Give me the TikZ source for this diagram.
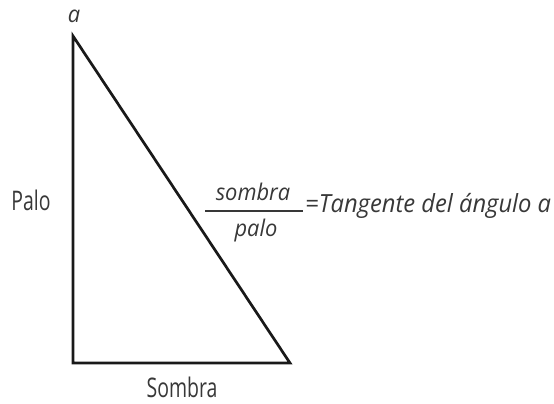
\documentclass[tikz,border=0pt]{standalone}
\usepackage{fontspec}
\newfontfamily\upf{Open Sans}[FakeStretch=0.72]
\newfontfamily\itf{Open Sans}[FakeStretch=0.95]
\begin{document}
\begin{tikzpicture}[x=1pt,y=-1pt,
  txt/.style={text=black!78, inner sep=0pt, font=\upf\fontsize{27}{30}\selectfont},
  itxt/.style={text=black!78, inner sep=0pt, font=\itf\itshape\fontsize{25}{28}\selectfont},
  edge/.style={draw=black!90, line width=2.7pt, line join=miter}]
\useasboundingbox (0,0) rectangle (554,404);
\coordinate (A) at (73,36);
\coordinate (B) at (73,363);
\coordinate (C) at (290,363);
\draw[edge] (A) -- (B) -- (C) -- cycle;
\node[itxt, font=\itf\itshape\fontsize{23}{26}\selectfont, anchor=base] (la) at (74,23) {a};
\node[txt, anchor=base] (lp) at (31,210) {Palo};
\node[txt, anchor=base] (ls) at (182,397) {Sombra};
\node[itxt, font=\itf\itshape\fontsize{23}{26}\selectfont, anchor=base] (num) at (253,200) {sombra};
\node[itxt, font=\itf\itshape\fontsize{23}{26}\selectfont, anchor=base] (den) at (256,236) {palo};
\draw[draw=black!78, line width=1.1pt] (205,211) coordinate (b1) -- (303,211) coordinate (b2);
\node[itxt, anchor=base west] (eq) at (305,212) {=Tangente del ángulo a};
\end{tikzpicture}
\end{document}
